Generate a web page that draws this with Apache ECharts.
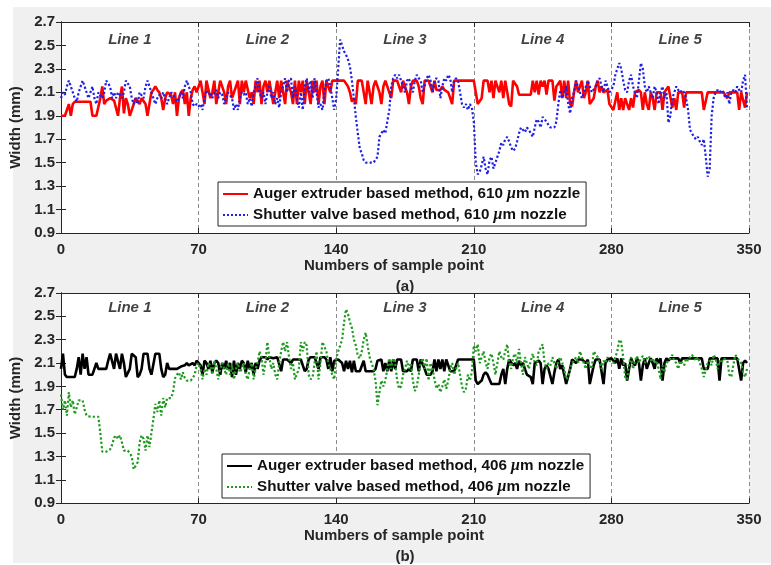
<!DOCTYPE html>
<html style="height: 100%">
  <head>
    <meta charset="utf-8" />
    <title>Width of printed lines</title>
    <script src="https://cdn.jsdelivr.net/npm/echarts@6.0.0/dist/echarts.min.js"></script>
  </head>
  <body style="height: 100%; margin: 0; background: #fff">
    <div id="container" style="width: 771px; height: 565px"></div>
    <script type="text/javascript">
      // series names
      const nameAugerA = "Auger extruder based method, 610 μm nozzle";
      const nameShutterA = "Shutter valve based method, 610 μm nozzle";
      const nameAugerB = "Auger extruder based method, 406 μm nozzle";
      const nameShutterB = "Shutter valve based method, 406 μm nozzle";

      // segment labels above the curves
      const lineLabels = ["Line 1", "Line 2", "Line 3", "Line 4", "Line 5"];
      const lineCenters = [35, 105, 175, 245, 315];

      // (a) auger extruder, 610 um (350 samples)
      const augerA = [
        1.9,1.9,1.9,1.95,2.0,1.9,2.0,2.02,2.02,2.02,2.02,2.02,2.02,2.02,
        2.02,2.02,1.9,1.9,1.9,1.9,2.05,2.15,2.0,2.03,2.03,2.05,2.05,2.03,
        2.03,1.9,2.05,2.15,1.92,2.05,2.0,1.9,1.9,2.0,2.05,2.03,2.0,2.05,
        2.05,2.0,1.9,2.0,2.1,2.12,2.15,2.12,2.1,2.05,1.95,2.05,2.1,2.1,
        2.08,2.0,2.1,1.9,2.05,2.1,2.12,2.0,2.1,1.9,2.05,2.12,2.15,2.1,

        2.1,2.2,2.1,2.0,2.2,2.2,2.05,2.1,2.2,2.0,2.1,2.2,2.2,2.1,
        2.0,2.15,2.2,2.05,2.1,2.1,2.2,2.0,2.2,2.1,2.2,2.2,2.05,2.1,
        2.0,2.2,2.1,2.2,2.0,2.15,2.2,2.1,2.2,2.2,2.0,2.1,2.2,2.05,
        2.2,2.1,2.0,2.2,2.2,2.1,2.0,2.2,2.0,2.2,2.1,2.2,2.0,2.2,
        2.2,2.0,2.2,2.1,2.2,2.0,2.15,2.2,2.0,2.2,2.2,2.1,2.2,2.2,

        2.2,2.2,2.2,2.2,2.2,2.2,2.15,2.1,2.02,2.05,2.0,2.2,2.2,2.2,
        2.1,2.0,2.2,2.1,2.0,2.15,2.2,2.2,2.1,2.0,2.15,2.2,2.2,2.1,
        2.05,2.2,2.2,2.2,2.15,2.1,2.2,2.2,2.1,2.0,2.15,2.2,2.2,2.2,
        2.15,2.05,2.0,2.2,2.2,2.2,2.15,2.1,2.2,2.12,2.12,2.12,2.15,2.12,
        2.12,2.1,2.05,2.0,2.2,2.2,2.2,2.2,2.2,2.2,2.2,2.2,2.2,2.2,

        2.2,2.1,2.0,2.0,2.05,2.2,2.2,2.2,2.1,2.2,2.05,2.2,2.2,2.1,
        2.2,2.05,2.2,2.1,2.0,1.98,2.2,2.2,2.15,2.08,2.08,2.08,2.08,2.08,
        2.08,2.08,2.2,2.1,2.2,2.08,2.2,2.15,2.2,2.08,2.2,2.2,2.2,2.03,
        2.15,2.15,2.2,2.05,2.2,2.05,2.2,2.0,1.98,2.1,2.2,2.1,2.1,2.2,
        2.05,2.1,2.2,2.0,2.0,2.05,2.15,2.2,2.1,2.15,2.1,2.1,2.12,2.0,

        2.0,1.95,1.95,2.1,1.95,2.05,1.95,2.05,2.0,1.95,2.05,1.97,2.1,2.1,
        2.12,2.1,1.95,2.1,2.0,1.95,2.1,2.05,1.95,2.1,2.1,2.1,1.95,2.1,
        2.1,2.15,2.15,1.97,2.05,1.95,2.1,2.1,2.1,1.97,2.1,2.1,2.1,2.1,
        2.1,2.1,2.1,2.1,2.1,1.95,1.95,2.1,2.1,2.1,2.1,2.1,2.1,2.1,
        2.1,2.1,2.1,2.05,2.1,2.1,2.1,2.1,2.1,1.95,2.1,2.1,1.97,2.1
      ];

      // (a) shutter valve, 610 um
      const shutterA = [
        2.05,2.1,2.08,2.15,2.2,2.2,2.1,2.05,2.02,2.1,2.15,2.2,2.2,2.1,
        2.05,2.1,2.15,2.05,2.0,2.1,2.1,2.05,2.1,2.2,2.2,2.15,2.05,2.1,
        2.05,2.1,2.08,2.05,2.1,2.2,2.2,2.15,2.05,2.0,2.05,2.0,2.1,2.1,
        2.05,2.15,2.2,2.2,2.1,2.05,2.0,2.05,2.08,2.05,2.1,2.05,2.0,2.05,
        2.1,2.08,2.05,2.02,2.05,2.1,2.05,2.15,2.2,2.2,2.1,2.0,1.98,2.0,

        1.98,2.0,1.95,2.05,2.12,2.08,2.1,2.05,2.1,2.12,2.05,2.1,2.08,2.0,
        2.05,2.1,2.1,2.05,1.95,2.0,1.95,2.05,2.1,2.08,2.1,2.0,2.05,1.98,
        2.1,2.15,2.22,2.1,2.05,2.1,2.0,2.1,2.15,2.05,2.1,2.0,2.05,1.97,
        2.1,2.15,2.22,2.1,2.2,2.22,2.05,2.15,2.05,1.97,2.1,1.95,2.15,2.22,
        2.1,2.2,2.05,2.22,2.1,1.97,2.0,1.95,2.1,2.2,2.22,2.15,2.05,1.95,

        2.05,2.3,2.55,2.5,2.45,2.42,2.38,2.32,2.2,2.05,1.89,1.75,1.62,1.58,
        1.52,1.5,1.5,1.5,1.5,1.5,1.5,1.55,1.72,1.75,1.78,1.75,1.85,1.95,
        2.15,2.22,2.25,2.22,2.25,2.2,2.15,2.1,2.2,2.22,2.15,2.1,2.2,2.25,
        2.22,2.2,2.1,2.15,2.22,2.25,2.2,2.1,2.2,2.22,2.2,2.05,2.15,2.22,
        2.2,2.25,2.22,2.1,2.2,2.22,2.2,2.1,2.0,1.97,2.0,1.95,2.0,1.97,

        1.85,1.5,1.4,1.42,1.48,1.55,1.45,1.4,1.52,1.55,1.45,1.5,1.55,1.6,
        1.67,1.65,1.7,1.72,1.68,1.63,1.6,1.62,1.68,1.75,1.8,1.78,1.76,1.8,
        1.78,1.75,1.72,1.8,1.87,1.85,1.8,1.89,1.9,1.85,1.82,1.8,1.8,1.8,
        1.85,2.0,2.12,2.05,2.1,2.15,2.0,1.92,2.05,2.1,2.2,2.15,2.1,2.05,
        2.1,2.15,2.2,2.15,2.1,2.1,2.15,2.2,2.22,2.15,2.1,2.2,2.15,2.1,

        2.1,2.15,2.25,2.3,2.35,2.3,2.2,2.12,2.1,2.2,2.25,2.15,2.1,2.05,
        2.2,2.35,2.3,2.15,2.1,2.15,2.1,2.05,2.15,2.1,2.0,2.1,2.15,2.05,
        2.1,1.84,1.9,2.05,2.1,2.15,2.12,2.1,2.12,2.1,2.05,1.95,1.78,1.75,
        1.72,1.7,1.72,1.68,1.65,1.7,1.55,1.38,1.45,1.9,2.05,2.1,2.12,2.1,
        2.12,2.1,2.05,2.1,2.0,2.1,2.12,2.1,2.15,2.12,2.1,2.2,2.25,1.95
      ];

      // (b) auger extruder, 406 um
      const augerB = [
        2.05,2.18,2.0,1.98,1.98,1.98,1.98,1.98,2.05,2.15,2.0,2.18,2.05,2.15,
        2.0,2.0,2.0,2.0,2.1,2.05,2.05,2.05,2.05,2.05,2.12,2.18,2.18,2.05,
        2.18,2.18,2.05,2.18,2.1,1.98,1.98,2.05,2.18,2.18,2.15,1.98,2.0,2.05,
        2.18,2.18,2.18,2.05,2.0,2.0,2.18,2.18,2.18,2.05,1.98,2.0,2.1,2.05,
        2.05,2.05,2.05,2.05,2.05,2.07,2.08,2.08,2.1,2.08,2.08,2.1,2.08,2.12,

        2.12,2.08,2.0,2.12,2.1,2.05,2.12,2.02,2.1,2.12,2.1,2.0,2.1,2.05,
        2.12,2.05,2.1,1.98,2.12,2.0,2.1,2.05,2.12,2.1,2.02,2.12,2.05,2.1,
        2.0,2.1,2.05,2.12,2.15,2.15,2.15,2.13,2.15,2.15,2.14,2.15,2.15,2.15,
        2.03,2.13,2.13,2.13,2.13,2.1,2.13,2.13,2.13,2.13,2.13,2.13,2.03,2.05,
        2.13,2.15,2.15,2.15,2.15,2.05,2.15,2.15,2.15,2.13,2.05,2.15,2.03,2.12,

        2.13,2.13,2.13,2.1,2.03,2.12,2.05,2.12,2.02,2.12,2.03,2.03,2.03,2.03,
        2.12,2.03,2.03,2.03,2.03,2.03,2.05,2.12,2.12,2.13,2.03,2.1,2.03,2.12,
        2.03,2.13,2.05,2.13,2.13,2.13,2.03,2.03,2.03,2.05,2.03,2.13,2.13,2.13,
        2.03,2.13,2.13,2.05,2.0,2.0,2.0,2.03,2.13,2.03,2.13,2.05,2.13,2.03,
        2.13,2.13,2.03,2.03,2.03,2.03,2.13,2.13,2.13,2.13,2.13,2.13,2.13,2.13,

        2.13,1.95,1.92,1.92,1.95,2.0,2.02,2.0,2.0,1.92,1.92,1.92,1.92,1.92,
        2.0,2.05,1.92,2.05,2.13,2.13,2.08,2.1,2.05,2.12,2.08,2.1,2.05,2.0,
        2.0,1.98,1.92,2.1,2.1,2.12,2.1,1.92,2.05,2.08,2.05,2.05,1.92,2.02,
        2.1,2.13,2.05,2.08,2.0,1.92,1.92,2.05,2.13,2.13,2.1,2.13,2.12,2.13,
        2.13,2.1,2.13,1.92,1.92,2.08,2.13,2.13,2.13,2.12,1.92,2.1,2.13,2.13,

        2.14,2.12,2.1,2.14,2.05,2.14,2.08,2.1,1.95,2.05,2.14,2.1,2.08,2.14,
        2.1,1.95,2.08,2.14,2.05,2.1,2.14,2.1,2.05,2.14,2.1,2.14,1.95,2.1,
        2.14,2.12,2.14,2.14,2.14,2.14,2.14,2.1,2.14,2.14,2.14,2.14,2.14,2.14,
        2.14,2.14,2.14,2.14,2.14,2.05,2.05,2.05,2.14,2.14,2.14,2.14,2.14,1.95,
        2.14,2.14,2.14,2.14,2.14,2.14,2.14,2.14,2.14,2.14,1.95,2.1,2.12,2.1
      ];

      // (b) shutter valve, 406 um
      const shutterB = [
        1.83,1.7,1.78,1.65,1.85,1.72,1.78,1.66,1.66,1.78,1.78,1.78,1.7,1.65,
        1.64,1.64,1.64,1.64,1.64,1.64,1.5,1.34,1.34,1.34,1.34,1.36,1.4,1.46,
        1.48,1.45,1.48,1.42,1.35,1.35,1.35,1.35,1.3,1.19,1.19,1.25,1.42,1.48,
        1.45,1.35,1.48,1.38,1.5,1.62,1.75,1.68,1.78,1.65,1.8,1.72,1.8,1.8,
        1.8,1.85,1.97,2.0,2.02,1.96,2.02,1.97,1.95,1.95,1.95,1.97,2.0,2.08,

        2.1,2.05,1.96,2.05,2.0,2.1,2.08,2.0,2.12,2.05,1.96,2.05,2.1,2.05,
        2.0,2.1,2.0,2.08,1.96,2.05,2.1,2.02,2.05,2.1,2.0,1.96,2.05,2.1,
        1.96,2.05,2.1,2.2,2.15,2.0,2.1,2.28,2.15,2.05,2.1,2.0,1.96,2.1,
        2.2,2.28,2.2,2.28,2.15,2.05,2.1,1.96,1.96,2.05,2.28,2.2,2.28,2.25,
        2.0,1.96,1.98,2.1,2.2,1.96,2.1,2.28,2.28,2.2,2.1,2.05,2.0,1.96,

        2.14,2.2,2.25,2.3,2.45,2.56,2.52,2.45,2.4,2.3,2.25,2.16,2.14,2.2,
        2.3,2.36,2.25,2.15,2.1,2.05,1.95,1.74,1.85,1.95,1.9,1.95,2.05,2.14,
        2.05,2.14,2.1,1.95,1.88,1.9,2.0,2.05,2.12,2.05,2.1,1.95,1.86,1.9,
        2.0,2.1,2.14,2.05,2.14,1.95,2.1,2.05,1.96,1.88,1.92,1.85,1.9,1.96,
        1.88,1.95,2.05,2.1,2.0,2.05,2.1,2.0,1.9,1.85,1.88,2.0,1.95,2.02,

        2.25,2.2,2.26,2.1,2.15,2.2,2.1,2.05,2.15,2.18,2.1,2.0,2.1,2.2,
        2.15,2.13,2.2,2.26,2.1,2.05,2.15,2.18,2.1,2.22,2.1,2.0,2.15,2.1,
        2.05,2.12,2.18,2.1,2.08,2.2,2.2,2.26,2.1,2.05,2.1,2.08,2.15,2.1,
        2.05,2.12,2.15,2.1,2.05,1.96,1.98,2.05,2.1,2.12,2.15,2.1,2.2,2.2,
        2.1,2.05,2.12,2.08,2.05,2.2,2.2,2.15,2.1,2.05,2.12,2.1,2.15,2.12,

        2.12,2.1,2.15,2.2,2.3,2.28,2.15,1.98,1.96,2.1,2.15,2.05,2.12,2.16,
        2.1,2.14,2.16,2.1,2.14,2.16,2.12,2.14,2.1,2.12,2.05,1.96,2.08,2.02,
        2.1,2.12,2.14,2.17,2.12,2.1,2.05,2.12,2.1,2.08,2.14,2.12,2.15,2.17,
        2.17,2.12,2.15,2.1,2.05,1.98,1.98,2.1,2.12,2.08,2.17,2.14,2.05,2.12,
        2.1,2.14,2.14,2.12,2.0,1.98,2.08,2.17,2.16,2.12,2.1,2.02,1.98,2.05
      ];

      const font = "Liberation Sans";
      const ink = "#262626";

      const pairs = (arr) => arr.map((v, i) => [i, v]);
      const labelData = (y) => lineLabels.map((t, i) => ({ name: t, value: [lineCenters[i], y] }));

      const grids = [
        { left: 61, top: 22, width: 688, height: 211 },
        { left: 61, top: 293, width: 688, height: 213 },
      ];

      function xAxes(gi, tag, gap) {
        return [
          {
            gridIndex: gi, type: "value", min: 0, max: 350, interval: 70, position: "bottom",
            axisLine: { lineStyle: { color: ink, width: 1 } },
            axisTick: { inside: true, length: 5, lineStyle: { color: ink } },
            axisLabel: { fontFamily: font, fontWeight: "bold", fontSize: 15, color: ink, margin: 9 },
            splitLine: { show: true, lineStyle: { color: "#8c8c8c", type: [4, 3], width: 1 } },
            name: "{t|Numbers of sample point}\n{s|" + tag + "}",
            nameLocation: "middle", nameGap: gap,
            nameTextStyle: {
              rich: {
                t: { fontFamily: font, fontWeight: "bold", fontSize: 15, color: ink, lineHeight: 21, padding: [0, 22, 0, 0] },
                s: { fontFamily: font, fontWeight: "bold", fontSize: 15, color: ink, lineHeight: 21 },
              },
            },
          },
          {
            gridIndex: gi, type: "value", min: 0, max: 350, interval: 70, position: "top",
            axisLine: { lineStyle: { color: ink, width: 1 } },
            axisTick: { inside: true, length: 5, lineStyle: { color: ink } },
            axisLabel: { show: false }, splitLine: { show: false },
          },
        ];
      }

      function yAxes(gi) {
        const base = {
          gridIndex: gi, type: "value", min: 0.9, max: 2.7, interval: 0.2,
          axisLine: { show: true, lineStyle: { color: ink, width: 1 } },
          axisTick: { show: true, inside: true, length: 5, lineStyle: { color: ink } },
          splitLine: { show: false },
        };
        return [
          Object.assign({}, base, {
            position: "left",
            axisLabel: { fontFamily: font, fontWeight: "bold", fontSize: 15, color: ink, margin: 6,
              formatter: (v) => v.toFixed(1) },
            name: "Width (mm)", nameLocation: "middle", nameGap: 31,
            nameTextStyle: { fontFamily: font, fontWeight: "bold", fontSize: 15, color: ink },
          }),
          Object.assign({}, base, { position: "right", axisLabel: { show: false } }),
        ];
      }

      function legend(names, left, top) {
        return {
          data: names, left: left, top: top, orient: "vertical",
          backgroundColor: "#fff", borderColor: ink, borderWidth: 1, borderRadius: 0,
          padding: [4, 6, 3, 4], itemGap: 5, itemWidth: 25, itemHeight: 15,
          itemStyle: { opacity: 0 },
          formatter: (n) => n.replace("μ", "{m|μ}"),
          textStyle: {
            fontFamily: font, fontWeight: "bold", fontSize: 15.2, color: "#111",
            rich: { m: { fontFamily: "Liberation Serif", fontStyle: "italic", fontSize: 16, color: "#111" } },
          },
        };
      }

      function lineSeries(name, data, xi, yi, color, type, width) {
        return {
          name: name, type: "line", xAxisIndex: xi, yAxisIndex: yi, data: pairs(data),
          symbol: "none", showSymbol: false, animation: false,
          lineStyle: { color: color, type: type, width: width }, itemStyle: { color: color }, z: 3,
        };
      }

      function labelSeries(xi, yi, y) {
        return {
          type: "scatter", xAxisIndex: xi, yAxisIndex: yi, data: labelData(y),
          symbolSize: 1, itemStyle: { color: "rgba(0,0,0,0)" }, silent: true, animation: false,
          label: { show: true, position: "inside", formatter: (p) => p.name,
            fontFamily: font, fontWeight: "bold", fontStyle: "italic", fontSize: 15, color: "#111" },
        };
      }

      const chart = echarts.init(document.getElementById("container"), null, { renderer: "canvas" });
      chart.setOption({
        backgroundColor: "#fff",
        animation: false,
        graphic: [
          { type: "rect", left: 13, top: 7, shape: { width: 758, height: 556 }, style: { fill: "#f0f0f0" }, z: -10, silent: true },
        ],
        grid: grids.map((g) => Object.assign({ show: true, backgroundColor: "#fff", borderWidth: 0 }, g)),
        xAxis: xAxes(0, "(a)", 16).concat(xAxes(1, "(b)", 19)),
        yAxis: yAxes(0).concat(yAxes(1)),
        legend: [
          legend([nameAugerA, nameShutterA], 218, 182),
          legend([nameAugerB, nameShutterB], 222, 454),
        ],
        series: [
          lineSeries(nameAugerA, augerA, 0, 0, "#ff0000", "solid", 2.6),
          lineSeries(nameShutterA, shutterA, 0, 0, "#1f1fe6", "dotted", 2.2),
          lineSeries(nameAugerB, augerB, 2, 2, "#000000", "solid", 2.6),
          lineSeries(nameShutterB, shutterB, 2, 2, "#1f9a1f", "dotted", 2.2),
          labelSeries(0, 0, 2.55),
          labelSeries(2, 2, 2.57),
        ],
      });
    </script>
  </body>
</html>
